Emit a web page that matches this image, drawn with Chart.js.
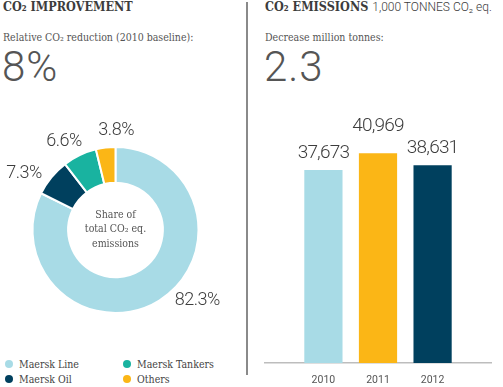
<!DOCTYPE html>
<html>
<head>
<meta charset="utf-8">
<script src="https://cdn.jsdelivr.net/npm/chart.js@4.4.0/dist/chart.umd.min.js"></script>
<style>
  body { margin: 0; background: #fff; width: 503px; height: 387px; overflow: hidden; position: relative;
         font-family: "DejaVu Serif Condensed", "DejaVu Serif", serif; color: #444; }
  .abs { position: absolute; white-space: nowrap; }
  .title { font-weight: bold; font-size: 12.5px; top: 0px; line-height: 14px; color: #3c3c3c; }
  .title span { font-family: Roboto, sans-serif; font-weight: 300; font-size: 12px; }
  .sub { font-size: 10.5px; top: 30px; line-height: 14px; color: #555; }
  .big { font-family: Roboto, sans-serif; font-weight: 300; font-size: 42px; top: 43px; line-height: 48px; color: #555; letter-spacing: 1px; }
  .divider { position: absolute; left: 246px; top: 2px; width: 1.5px; height: 373px; background: #8a8a8a; }
  canvas { position: absolute; }
  #legend { position: absolute; left: 5px; top: 357px; display: grid; grid-template-columns: 118px 118px; row-gap: 1px; }
  #legend div { font-size: 10.5px; line-height: 14px; color: #444; display: flex; align-items: center; }
  #legend i { width: 8px; height: 8px; border-radius: 50%; display: inline-block; margin-right: 6px; }
</style>
</head>
<body>
<div class="abs title" style="left:3px">CO₂ IMPROVEMENT</div>
<div class="abs sub" style="left:3px">Relative CO₂ reduction (2010 baseline):</div>
<div class="abs big" style="left:2px">8%</div>

<div class="divider"></div>

<div class="abs title" style="left:265px">CO₂ EMISSIONS <span>1,000 TONNES CO₂ eq.</span></div>
<div class="abs sub" style="left:265px">Decrease million tonnes:</div>
<div class="abs big" style="left:264px">2.3</div>

<canvas id="donut" width="250" height="220" style="left:0;top:120px"></canvas>
<canvas id="bars" width="253" height="287" style="left:250px;top:100px"></canvas>
<div id="legend"></div>

<script>
// share of total CO2 eq. emissions (%)
const units = ['Maersk Line', 'Maersk Oil', 'Maersk Tankers', 'Others'];
const shares = [82.3, 7.3, 6.6, 3.8];
const unitColors = ['#a8dbe6', '#00405e', '#19b3a0', '#fbb616'];
const legendOrder = [0, 2, 1, 3];

// CO2 emissions, 1,000 tonnes CO2 eq.
const years = [2010, 2011, 2012];
const emissions = [37673, 40969, 38631];
const barColors = ['#a8dbe6', '#fbb616', '#00405e'];

const sliceLabels = {
    id: 'sliceLabels',
    afterDatasetsDraw(chart) {
        const ctx = chart.ctx;
        const meta = chart.getDatasetMeta(0);
        const minGap = 28 * Math.PI / 180;
        const arcs = meta.data.map(arc => arc.getProps(['x', 'y', 'startAngle', 'endAngle', 'outerRadius'], true));
        const angles = arcs.map(p => p.endAngle - p.startAngle > Math.PI ? Math.PI / 4 : (p.startAngle + p.endAngle) / 2);
        // spread crowded labels of the small slices apart
        for (let k = 0; k < 20; k++) {
            for (let i = 1; i < angles.length; i++) {
                if (arcs[i - 1].endAngle - arcs[i - 1].startAngle > Math.PI) continue;
                const gap = angles[i] - angles[i - 1];
                if (gap < minGap) {
                    angles[i - 1] -= (minGap - gap) / 2;
                    angles[i] += (minGap - gap) / 2;
                }
            }
        }
        ctx.save();
        ctx.font = '300 18px Roboto';
        ctx.letterSpacing = '-0.5px';
        ctx.fillStyle = '#3d3d3d';
        ctx.textAlign = 'center';
        ctx.textBaseline = 'middle';
        arcs.forEach((p, i) => {
            const a = angles[i];
            const text = shares[i].toFixed(1) + '%';
            const w = ctx.measureText(text).width / 2;
            const cos = Math.cos(a), sin = Math.sin(a);
            const r = p.outerRadius + 10;
            ctx.fillText(text, p.x + cos * (r + w), p.y + sin * (r + 7));
        });
        ctx.restore();
    }
};

const centerText = {
    id: 'centerText',
    afterDraw(chart) {
        const ctx = chart.ctx;
        const arc = chart.getDatasetMeta(0).data[0];
        const lines = ['Share of', 'total CO₂ eq.', 'emissions'];
        ctx.save();
        ctx.font = '10.5px "DejaVu Serif Condensed", "DejaVu Serif", serif';
        ctx.fillStyle = '#555';
        ctx.textAlign = 'center';
        ctx.textBaseline = 'middle';
        lines.forEach((l, i) => ctx.fillText(l, arc.x, arc.y - 15 + i * 14.5));
        ctx.restore();
    }
};

new Chart(document.getElementById('donut'), {
    type: 'doughnut',
    data: {
        labels: units,
        datasets: [{
            data: shares,
            backgroundColor: unitColors,
            borderColor: '#fff',
            borderWidth: 2
        }]
    },
    options: {
        responsive: false,
        animation: false,
        cutout: '57%',
        layout: { padding: { left: 26, right: 45, top: 26, bottom: 26 } },
        plugins: { legend: { display: false }, tooltip: { enabled: false } }
    },
    plugins: [sliceLabels, centerText]
});

const barValues = {
    id: 'barValues',
    afterDatasetsDraw(chart) {
        const ctx = chart.ctx;
        const bars = chart.getDatasetMeta(0).data;
        ctx.save();
        ctx.font = '300 19px Roboto';
        ctx.letterSpacing = '-0.8px';
        ctx.fillStyle = '#3d3d3d';
        ctx.textAlign = 'center';
        ctx.textBaseline = 'bottom';
        const boxes = bars.map((b, i) => {
            const t = emissions[i].toLocaleString('en-US');
            const w = ctx.measureText(t).width + 8;
            return { t, x: b.x, y: b.y - 7, l: b.x - w / 2, r: b.x + w / 2 };
        });
        // lift the taller bar's label when two labels would collide
        boxes.forEach((bx, i) => {
            [i - 1, i + 1].forEach(j => {
                const o = boxes[j];
                if (o && bx.l < o.r && bx.r > o.l && bx.y < o.y && o.y - bx.y < 22) bx.y = o.y - 22;
            });
        });
        boxes.forEach(bx => ctx.fillText(bx.t, bx.x, bx.y));
        ctx.restore();
    }
};

new Chart(document.getElementById('bars'), {
    type: 'bar',
    data: {
        labels: years,
        datasets: [{
            data: emissions,
            backgroundColor: barColors,
            barPercentage: 0.7,
            categoryPercentage: 1
        }]
    },
    options: {
        responsive: false,
        animation: false,
        layout: { padding: { left: 15, right: 12, top: 7, bottom: 0 } },
        plugins: { legend: { display: false }, tooltip: { enabled: false } },
        scales: {
            x: {
                type: 'linear',
                offset: false,
                min: 2008.93,
                max: 2013.07,
                grid: { display: false },
                border: { color: '#bdbdbd', width: 1.5 },
                afterBuildTicks: s => { s.ticks = years.map(v => ({ value: v })); },
                afterFit: s => { s.height = 24; },
                ticks: {
                    autoSkip: false,
                    maxRotation: 0,
                    padding: 3,
                    color: '#555',
                    font: { family: 'Roboto', size: 10.5 },
                    callback: v => String(v)
                }
            },
            y: { display: false, min: 0, max: 50000 }
        }
    },
    plugins: [barValues]
});

const legend = document.getElementById('legend');
legendOrder.forEach(i => {
    const d = document.createElement('div');
    d.innerHTML = '<i style="background:' + unitColors[i] + '"></i>' + units[i];
    legend.appendChild(d);
});
</script>
</body>
</html>
